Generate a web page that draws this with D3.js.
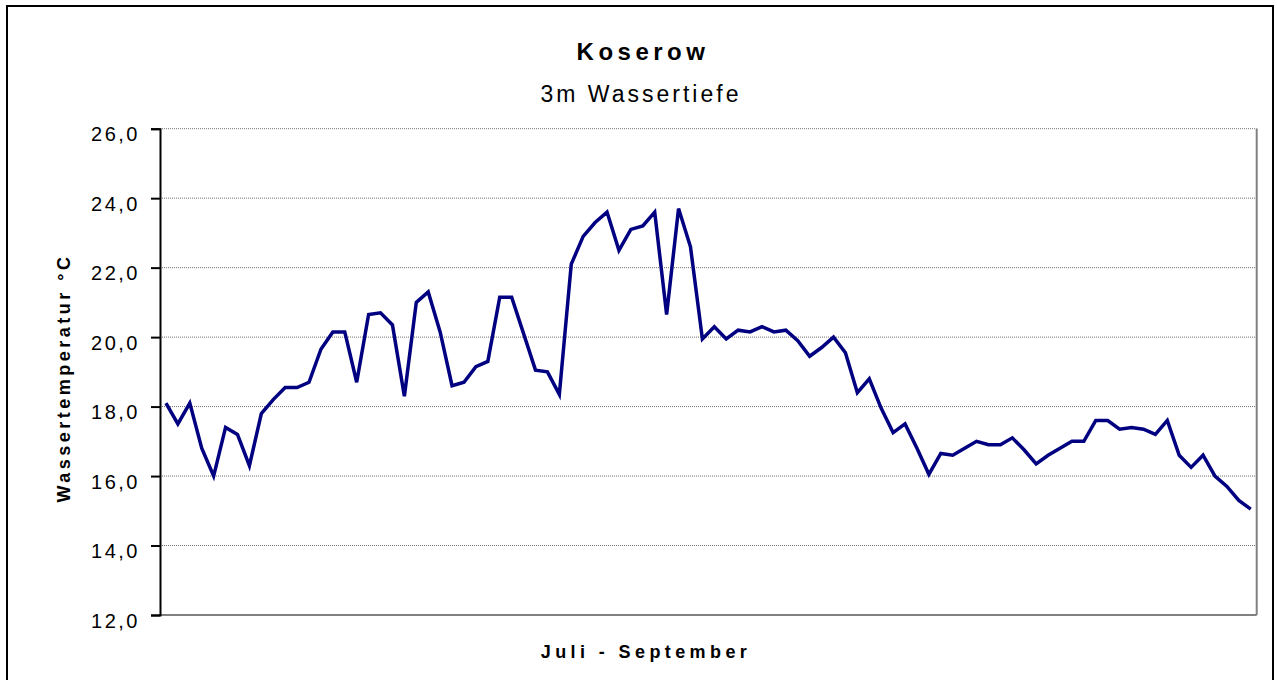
<!DOCTYPE html>
<html>
<head>
<meta charset="utf-8">
<script src="https://cdn.jsdelivr.net/npm/d3@7"></script>
<style>
body { margin: 0; background: #fff; }
text { font-family: Arial, "Liberation Sans", sans-serif; fill: #000; }
</style>
</head>
<body>
<svg id="chart" width="1277" height="680"></svg>
<script>
// Koserow, 3m Wassertiefe, daily values 1 July - 30 September
var days = d3.range(1, 93);
var temps = [
	18.1, 17.5, 18.1, 16.8, 16.0, 17.4, 17.2, 16.3, 17.8, 18.2,
	18.55, 18.55, 18.7, 19.65, 20.15, 20.15, 18.7, 20.65, 20.7, 20.35,
	18.3, 21.0, 21.3, 20.15, 18.6, 18.7, 19.15, 19.3, 21.15, 21.15,
	20.1, 19.05, 19.0, 18.35, 22.1, 22.9, 23.3, 23.6, 22.5, 23.1,
	23.2, 23.6, 20.65, 23.7, 22.6, 19.95, 20.3, 19.95, 20.2, 20.15,
	20.3, 20.15, 20.2, 19.9, 19.45, 19.7, 20.0, 19.55, 18.4, 18.8,
	17.95, 17.25, 17.5, 16.8, 16.05, 16.65, 16.6, 16.8, 17.0, 16.9,
	16.9, 17.1, 16.75, 16.35, 16.6, 16.8, 17.0, 17.0, 17.6, 17.6,
	17.35, 17.4, 17.35, 17.2, 17.6, 16.6, 16.25, 16.6, 16.0, 15.7,
	15.3, 15.05
];
var yTicks = [12, 14, 16, 18, 20, 22, 24, 26];

var svg = d3.select('#chart'),
	margin = {top: 128.7, right: 20.3, bottom: 65, left: 160},
	width = +svg.attr("width") - margin.left - margin.right,
	height = +svg.attr("height") - margin.top - margin.bottom;

// outer frame (bottom edge runs off the picture)
svg.append("rect")
	.attr("x", 7).attr("y", 6)
	.attr("width", 1266).attr("height", 700)
	.attr("fill", "none")
	.attr("stroke", "#000")
	.attr("stroke-width", 2);

var chart = svg.append("g")
	.attr("transform", "translate(" + margin.left + "," + margin.top + ")");

var x = d3.scaleBand()
	.range([0, width])
	.domain(days);
var y = d3.scaleLinear()
	.domain([12, 26])
	.range([height, 0]);

// gridlines
chart.append("g")
	.selectAll("line")
	.data(yTicks.slice(1))
	.enter().append("line")
	.attr("x1", 0).attr("x2", width)
	.attr("y1", function(d) { return y(d); })
	.attr("y2", function(d) { return y(d); })
	.attr("stroke", "#707070")
	.attr("stroke-width", 1)
	.attr("stroke-dasharray", "1,1");

// right and bottom borders of the plot area
chart.append("line")
	.attr("x1", width).attr("x2", width)
	.attr("y1", 0).attr("y2", height)
	.attr("stroke", "#808080").attr("stroke-width", 2);
chart.append("line")
	.attr("x1", 0).attr("x2", width)
	.attr("y1", height).attr("y2", height)
	.attr("stroke", "#808080").attr("stroke-width", 2);

var yAxis = chart.append("g")
	.attr("class", "axis axis-y")
	.call(d3.axisLeft(y)
		.tickValues(yTicks)
		.tickSize(9)
		.tickPadding(11)
		.tickFormat(function(d) { return d3.format(".1f")(d).replace(".", ","); }));
yAxis.select(".domain").attr("stroke", "#000").attr("stroke-width", 2);
yAxis.selectAll(".tick line").attr("stroke", "#000").attr("stroke-width", 2);
yAxis.selectAll("text")
	.attr("font-size", 20)
	.attr("letter-spacing", "2.5px")
	.attr("dy", "0.6em")
	.attr("fill", "#000");

var line = d3.line()
	.x(function(d, i) { return x(days[i]) + x.bandwidth() / 2; })
	.y(function(d) { return y(d); });

chart.append("path")
	.datum(temps)
	.attr("d", line)
	.attr("fill", "none")
	.attr("stroke", "#000080")
	.attr("stroke-width", 3.5)
	.attr("stroke-linejoin", "miter");

// titles
svg.append("text")
	.attr("x", 643).attr("y", 60)
	.attr("text-anchor", "middle")
	.attr("font-size", 24)
	.attr("font-weight", "bold")
	.attr("letter-spacing", "4.5px")
	.text("Koserow");

svg.append("text")
	.attr("x", 641).attr("y", 102)
	.attr("text-anchor", "middle")
	.attr("font-size", 23)
	.attr("letter-spacing", "3px")
	.text("3m Wassertiefe");

svg.append("text")
	.attr("x", 646).attr("y", 658)
	.attr("text-anchor", "middle")
	.attr("font-size", 18)
	.attr("font-weight", "bold")
	.attr("letter-spacing", "4.4px")
	.text("Juli - September");

svg.append("text")
	.attr("transform", "translate(70,378) rotate(-90)")
	.attr("text-anchor", "middle")
	.attr("font-size", 18)
	.attr("font-weight", "bold")
	.attr("letter-spacing", "3.5px")
	.text("Wassertemperatur °C");
</script>
</body>
</html>
